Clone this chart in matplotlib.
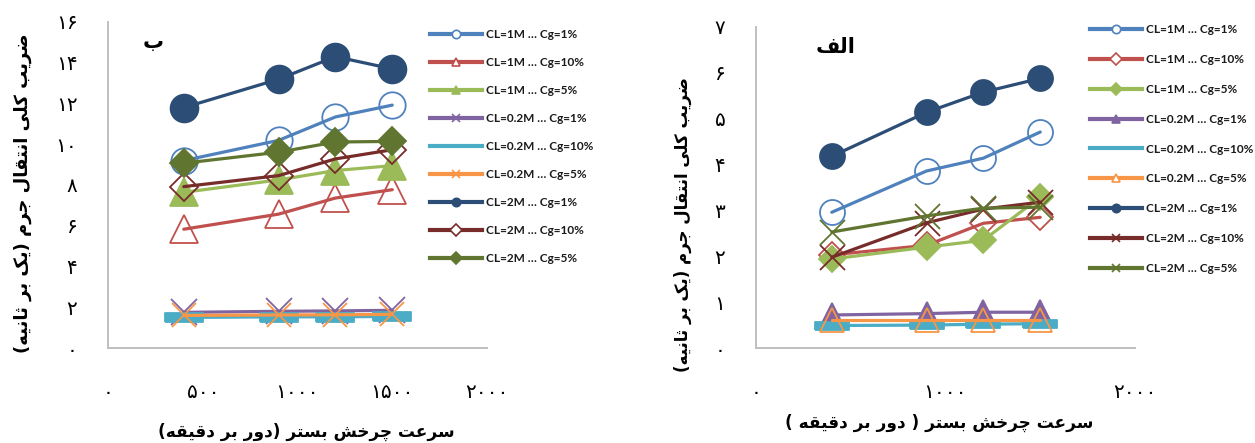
import matplotlib
matplotlib.use("Agg")
import matplotlib.pyplot as plt
from matplotlib.lines import Line2D
from matplotlib import font_manager
from matplotlib.ft2font import FT2Font

# ---------------- data ----------------
rpm = [400, 900, 1200, 1500]

series_labels = ["CL=1M … Cg=1%", "CL=1M … Cg=10%", "CL=1M … Cg=5%",
                 "CL=0.2M … Cg=1%", "CL=0.2M … Cg=10%", "CL=0.2M … Cg=5%",
                 "CL=2M … Cg=1%", "CL=2M … Cg=10%", "CL=2M … Cg=5%"]

# panel "ب" (left)
b_cl1_cg1 = [9.2, 10.19, 11.34, 11.92]
b_cl1_cg10 = [5.83, 6.57, 7.36, 7.77]
b_cl1_cg5 = [7.64, 8.25, 8.71, 8.95]
b_cl02_cg1 = [1.75, 1.8, 1.82, 1.85]
b_cl02_cg10 = [1.5, 1.53, 1.53, 1.55]
b_cl02_cg5 = [1.6, 1.62, 1.63, 1.65]
b_cl2_cg1 = [11.8, 13.19, 14.3, 13.7]
b_cl2_cg10 = [7.92, 8.46, 9.28, 9.73]
b_cl2_cg5 = [9.07, 9.61, 10.11, 10.14]

# panel "الف" (right)
a_cl1_cg1 = [2.96, 3.86, 4.14, 4.71]
a_cl1_cg10 = [2.03, 2.24, 2.72, 2.85]
a_cl1_cg5 = [1.94, 2.2, 2.35, 3.29]
a_cl02_cg1 = [0.72, 0.75, 0.78, 0.78]
a_cl02_cg10 = [0.49, 0.5, 0.52, 0.53]
a_cl02_cg5 = [0.61, 0.61, 0.61, 0.61]
a_cl2_cg1 = [4.18, 5.14, 5.58, 5.88]
a_cl2_cg10 = [1.98, 2.73, 3.03, 3.18]
a_cl2_cg5 = [2.53, 2.88, 3.05, 3.07]

b_values = [b_cl1_cg1, b_cl1_cg10, b_cl1_cg5, b_cl02_cg1, b_cl02_cg10,
            b_cl02_cg5, b_cl2_cg1, b_cl2_cg10, b_cl2_cg5]
a_values = [a_cl1_cg1, a_cl1_cg10, a_cl1_cg5, a_cl02_cg1, a_cl02_cg10,
            a_cl02_cg5, a_cl2_cg1, a_cl2_cg10, a_cl2_cg5]

b_xticks = [0, 500, 1000, 1500, 2000]
a_xticks = [0, 1000, 2000]
b_yticks = [0, 2, 4, 6, 8, 10, 12, 14, 16]
a_yticks = [0, 1, 2, 3, 4, 5, 6, 7]

ylabel_text = "ضریب کلی انتقال جرم (یک بر ثانیه)"
b_xlabel_text = "سرعت چرخش بستر (دور بر دقیقه)"
a_xlabel_text = "سرعت چرخش بستر ( دور بر دقیقه )"
b_title = "ب"
a_title = "الف"

# ---------------- styles ----------------
colors = ["#4F81BD", "#C0504D", "#9BBB59", "#8064A2", "#4BACC6",
          "#F79646", "#2C4D75", "#772C2A", "#5F7530"]

RECT = [(-1, -0.24), (1, -0.24), (1, 0.24), (-1, 0.24), (-1, -0.24)]

# (marker, filled, size)
b_markers = [("o", False, 19), ("^", False, 20), ("^", True, 20),
             ("x", False, 19), (RECT, True, 27), ("x", False, 17),
             ("o", True, 20), ("D", False, 14), ("D", True, 14)]
a_markers = [("o", False, 18), ("D", False, 13), ("D", True, 13),
             ("^", True, 17), (RECT, True, 24), ("^", False, 17),
             ("o", True, 18), ("x", False, 18), ("x", False, 18)]

# ---------------- simple Persian shaping ----------------
FORMS = {  # isolated, final, initial, medial
    'ا': ('\uFE8D', '\uFE8E', None, None),
    'ب': ('\uFE8F', '\uFE90', '\uFE91', '\uFE92'),
    'ت': ('\uFE95', '\uFE96', '\uFE97', '\uFE98'),
    'ث': ('\uFE99', '\uFE9A', '\uFE9B', '\uFE9C'),
    'ج': ('\uFE9D', '\uFE9E', '\uFE9F', '\uFEA0'),
    'چ': ('\uFB7A', '\uFB7B', '\uFB7C', '\uFB7D'),
    'خ': ('\uFEA5', '\uFEA6', '\uFEA7', '\uFEA8'),
    'د': ('\uFEA9', '\uFEAA', None, None),
    'ر': ('\uFEAD', '\uFEAE', None, None),
    'س': ('\uFEB1', '\uFEB2', '\uFEB3', '\uFEB4'),
    'ش': ('\uFEB5', '\uFEB6', '\uFEB7', '\uFEB8'),
    'ض': ('\uFEBD', '\uFEBE', '\uFEBF', '\uFEC0'),
    'ع': ('\uFEC9', '\uFECA', '\uFECB', '\uFECC'),
    'ف': ('\uFED1', '\uFED2', '\uFED3', '\uFED4'),
    'ق': ('\uFED5', '\uFED6', '\uFED7', '\uFED8'),
    'ک': ('\uFB8E', '\uFB8F', '\uFB90', '\uFB91'),
    'ل': ('\uFEDD', '\uFEDE', '\uFEDF', '\uFEE0'),
    'م': ('\uFEE1', '\uFEE2', '\uFEE3', '\uFEE4'),
    'ن': ('\uFEE5', '\uFEE6', '\uFEE7', '\uFEE8'),
    'ه': ('\uFEE9', '\uFEEA', '\uFEEB', '\uFEEC'),
    'و': ('\uFEED', '\uFEEE', None, None),
    'ی': ('\uFBFC', '\uFBFD', '\uFBFE', '\uFBFF'),
}


def shape(s):
    out = []
    for i, c in enumerate(s):
        if c not in FORMS:
            out.append(c)
            continue
        prev = s[i - 1] if i > 0 else None
        nxt = s[i + 1] if i + 1 < len(s) else None
        jp = prev in FORMS and FORMS[prev][2] is not None
        jn = nxt in FORMS and FORMS[c][2] is not None
        iso, fin, ini, med = FORMS[c]
        if jp and jn:
            out.append(med)
        elif jp:
            out.append(fin)
        elif jn:
            out.append(ini)
        else:
            out.append(iso)
    vis = "".join(out)[::-1]
    return vis.translate(str.maketrans("()", ")("))


PD = "۰۱۲۳۴۵۶۷۸۹"


def pdig(n):
    return "".join(PD[int(ch)] for ch in str(n))


def pick_weight(texts):
    need = set()
    for t in texts:
        need |= {ord(ch) for ch in t if ch != " "}
    try:
        path = font_manager.findfont(font_manager.FontProperties(family="DejaVu Sans", weight="bold"))
        cmap = FT2Font(path).get_charmap()
        if need <= set(cmap.keys()):
            return "bold"
    except Exception:
        pass
    return "normal"


shaped = [shape(t) for t in [ylabel_text, b_xlabel_text, a_xlabel_text, b_title, a_title]]
AW = pick_weight(shaped)
FA = ["DejaVu Sans"]

W, H = 1255, 443
fig = plt.figure(figsize=(W / 100, H / 100), dpi=100)

axL = fig.add_axes([108 / W, 1 - 348 / H, 379 / W, (348 - 22) / H])
axR = fig.add_axes([756 / W, 1 - 348 / H, 379 / W, (348 - 27) / H])


def draw(ax, values, markers):
    for vals, col, (m, filled, ms) in zip(values, colors, markers):
        ax.plot(rpm, vals, color=col, lw=2.3, marker=m, markersize=ms,
                markerfacecolor=col if filled else "none",
                markeredgecolor=col, markeredgewidth=1.3, solid_capstyle="round")


draw(axL, b_values, b_markers)
draw(axR, a_values, a_markers)

for ax, xt, yt, ymax in [(axL, b_xticks, b_yticks, 16), (axR, a_xticks, a_yticks, 7)]:
    ax.set_xlim(0, 2000)
    ax.set_ylim(0, ymax)
    ax.set_xticks(xt)
    ax.set_xticklabels([pdig(v) for v in xt], family=FA, fontsize=14.5)
    ax.set_yticks(yt)
    ax.set_yticklabels([pdig(v) for v in yt], family=FA, fontsize=14.5)
    ax.tick_params(axis="x", length=0, pad=25)
    ax.tick_params(axis="y", length=0, pad=22)
    for s in ["top", "right"]:
        ax.spines[s].set_visible(False)
    for s in ["left", "bottom"]:
        ax.spines[s].set_color("#BFBFBF")
        ax.spines[s].set_linewidth(1.4)
    ax.set_facecolor("none")
    for ln in ax.lines:
        ln.set_clip_on(False)

# axis titles
fig.text(23 / W, 1 - 193 / H, shaped[0], rotation=90, ha="center", va="center",
         family=FA, weight=AW, fontsize=13)
fig.text(683 / W, 1 - 225 / H, shaped[0], rotation=90, ha="center", va="center",
         family=FA, weight=AW, fontsize=12)
fig.text(306 / W, 1 - 432 / H, shaped[1], ha="center", va="center",
         family=FA, weight=AW, fontsize=12.2)
fig.text(939 / W, 1 - 423 / H, shaped[2], ha="center", va="center",
         family=FA, weight=AW, fontsize=12.2)
fig.text(153 / W, 1 - 42 / H, shaped[3], ha="center", va="center",
         family=FA, weight=AW, fontsize=15)
fig.text(836 / W, 1 - 47 / H, shaped[4], ha="center", va="center",
         family=FA, weight=AW, fontsize=15)


def legend_handles(markers):
    hs = []
    for col, (m, filled, ms) in zip(colors, markers):
        if m is RECT:
            hs.append(Line2D([], [], color=col, lw=3))
        else:
            hs.append(Line2D([], [], color=col, lw=3, marker=m, markersize=6,
                             markerfacecolor=col if filled else "white",
                             markeredgecolor=col, markeredgewidth=1.2))
    return hs


lp = font_manager.FontProperties(family="Lato", weight="bold", size=8.5)
fig.legend(legend_handles(b_markers), series_labels, loc="upper left",
           bbox_to_anchor=(430 / W, 1 - 29 / H), frameon=False, borderpad=0,
           borderaxespad=0, handlelength=4.4, handletextpad=0.35,
           labelspacing=1.44, prop=lp, labelcolor="#1a1a1a")
fig.legend(legend_handles(a_markers), series_labels, loc="upper left",
           bbox_to_anchor=(1090 / W, 1 - 24 / H), frameon=False, borderpad=0,
           borderaxespad=0, handlelength=4.4, handletextpad=0.35,
           labelspacing=1.6, prop=lp, labelcolor="#1a1a1a")

fig.savefig("out.png", dpi=100)
